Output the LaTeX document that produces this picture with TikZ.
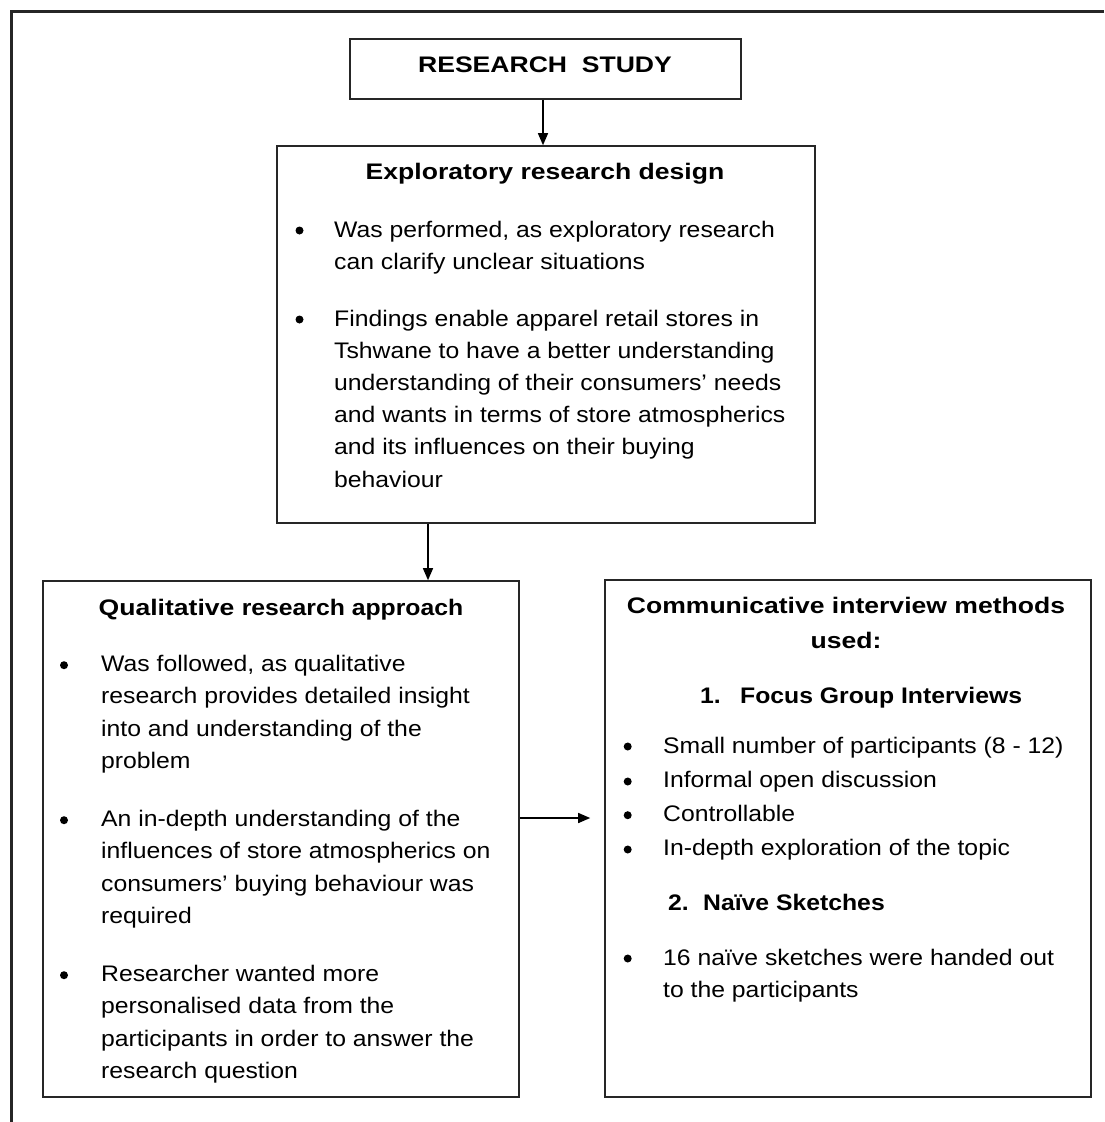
\documentclass[tikz,border=0pt]{standalone}
\usepackage{fontspec}
\setmainfont{Liberation Sans}[FakeStretch=1.1]
\newfontfamily\headfont{Liberation Sans}[FakeStretch=1.18]
\newfontfamily\midfont{Liberation Sans}[FakeStretch=1.1]
\usetikzlibrary{arrows.meta}
\tikzset{
  frame/.style={line width=3pt,black!85},
  panel/.style={draw=black!85,line width=1.6pt,inner sep=0pt},
  flow/.style={line width=1.4pt,-{Triangle[length=12pt,width=10pt]}},
  txt/.style={font=\fontsize{22.5}{32.2}\selectfont,inner sep=0pt,align=left,anchor=base west},
  head/.style={font=\headfont\bfseries\fontsize{22.5}{35}\selectfont,inner sep=0pt,align=center,anchor=base},
  sub/.style={font=\midfont\bfseries\fontsize{22.5}{32.2}\selectfont,inner sep=0pt,anchor=base west},
  dot/.style={circle,fill=black,inner sep=0pt,minimum size=8pt}
}
\begin{document}
\begin{tikzpicture}[x=1pt,y=-1pt]
  \useasboundingbox (0,0) rectangle (1104,1122);
  \draw[frame] (11,1122) -- (11,11) -- (1104,11);
  % boxes
  \node[panel,minimum width=391pt,minimum height=60pt] (study) at (545.5,69) {};
  \node[panel,minimum width=538pt,minimum height=377pt] (design) at (546,334.5) {};
  \node[panel,minimum width=476pt,minimum height=516pt] (qual) at (281,839) {};
  \node[panel,minimum width=486pt,minimum height=517pt] (comm) at (848,838.5) {};
  % connectors
  \draw[flow] ([xshift=-2.5pt]study.south) -- ([xshift=-3pt]design.north);
  \draw[flow] ([xshift=-118pt]design.south) -- ([xshift=147pt]qual.north);
  \draw[flow] ([yshift=21pt]qual.east) -- ([xshift=-14pt,yshift=20.5pt]comm.west);
  % research study
  \node[head] (studylab) at (545,72) {RESEARCH~~STUDY};
  % exploratory design (multi-line texts sit on their last baseline)
  \node[head] (designlab) at (545,179) {Exploratory research design};
  \node[dot] (dd1) at (299.5,230.5) {}; \node[dot] (dd2) at (299.5,319.5) {};
  \node[txt] (d1) at (334,269.2) {Was performed, as exploratory research\\can clarify unclear situations};
  \node[txt] (d2) at (334,487) {Findings enable apparel retail stores in\\Tshwane to have a better understanding\\understanding of their consumers’ needs\\and wants in terms of store atmospherics\\and its influences on their buying\\behaviour};
  % qualitative approach
  \node[head] (quallab) at (281,615.7) {Qualitative {\midfont research approach}};
  \node[dot] (qd1) at (64,665.2) {}; \node[dot] (qd2) at (64,820.2) {}; \node[dot] (qd3) at (64,975.2) {};
  \node[txt] (q1) at (101,768.3) {Was followed, as qualitative\\research provides detailed insight\\into and understanding of the\\problem};
  \node[txt] (q2) at (101,923.3) {An in-depth understanding of the\\influences of store atmospherics on\\consumers’ buying behaviour was\\required};
  \node[txt] (q3) at (101,1078.3) {Researcher wanted more\\personalised data from the\\participants in order to answer the\\research question};
  % interview methods
  \node[head] (commlab) at (846,648) {Communicative interview methods\\used:};
  \node[sub] (focus) at (700,703) {\makebox[40pt][l]{1.}Focus Group Interviews};
  \node[dot] (cd1) at (627.7,746.5) {}; \node[dot] (cd2) at (627.7,781.5) {};
  \node[dot] (cd3) at (627.7,815.2) {}; \node[dot] (cd4) at (627.7,849.5) {};
  \node[txt] (c1) at (663,855.6) {Small number of participants (8 - 12)\\[2pt]Informal open discussion\\[2pt]Controllable\\[2pt]In-depth exploration of the topic};
  \node[sub] (sketch) at (668,910) {\makebox[35pt][l]{2.}Naïve Sketches};
  \node[dot] (cd5) at (627.7,958.5) {};
  \node[txt] (c2) at (663,997.2) {16 naïve sketches were handed out\\to the participants};
\end{tikzpicture}
\end{document}
